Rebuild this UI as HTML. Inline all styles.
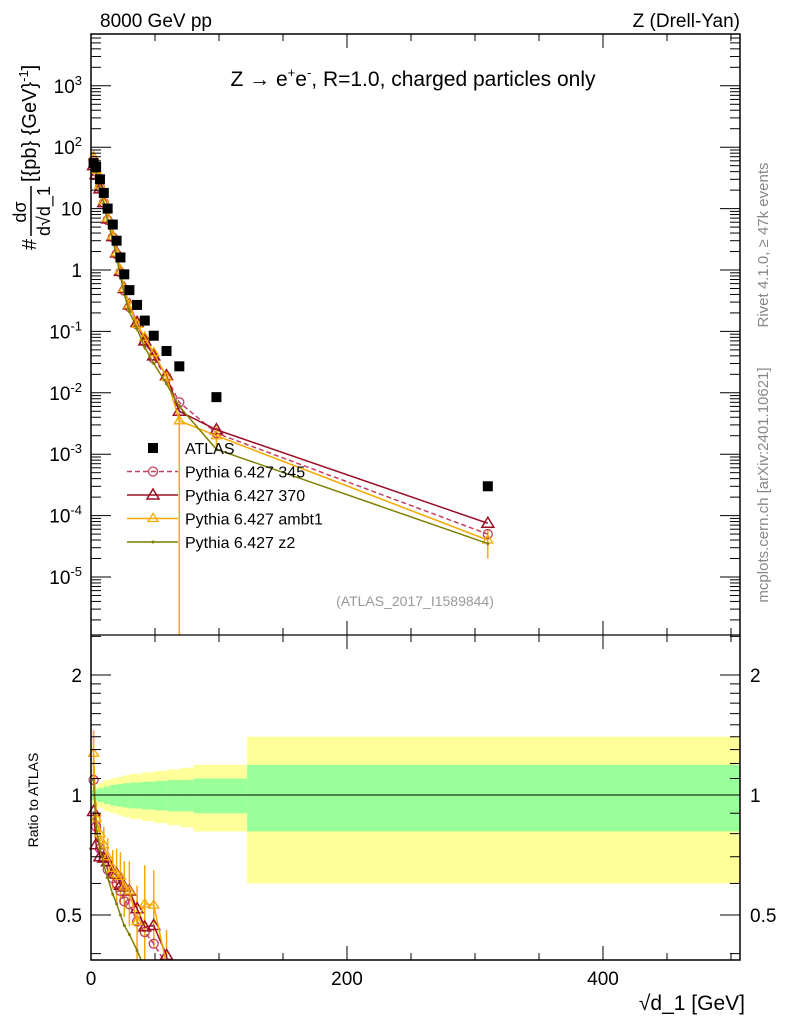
<!DOCTYPE html>
<html><head><meta charset="utf-8"><style>
html,body{margin:0;padding:0;background:#fff;width:786px;height:1024px;overflow:hidden;position:relative;}
svg{display:block;position:absolute;left:0;top:0;font-family:"Liberation Sans",sans-serif;}
</style></head><body>
<svg id="c" width="786" height="1024" viewBox="0 0 786 1024" xmlns="http://www.w3.org/2000/svg">
<g id="ratio-bands"></g>
<g id="marks"></g>
<g id="axes"></g>
<text x="100" y="27" font-size="19">8000 GeV pp</text>
<text x="740" y="27" font-size="19" text-anchor="end">Z (Drell-Yan)</text>
<text x="413" y="86" font-size="21" text-anchor="middle">Z  →  e<tspan font-size="13" dy="-9">+</tspan><tspan dy="9">e</tspan><tspan font-size="13" dy="-9">-</tspan><tspan dy="9">, R=1.0, charged particles only</tspan></text>
<text x="415" y="606" font-size="14" fill="#999" text-anchor="middle">(ATLAS_2017_I1589844)</text>
<text transform="translate(768,245) rotate(-90)" font-size="15" fill="#888" text-anchor="middle">Rivet 4.1.0, ≥ 47k events</text>
<text transform="translate(768,485) rotate(-90)" font-size="15" fill="#888" text-anchor="middle">mcplots.cern.ch [arXiv:2401.10621]</text>
<g transform="translate(36,250) rotate(-90)" font-size="20">
<text x="0" y="0">#</text>
<text x="38" y="-10" font-size="18" text-anchor="middle">dσ</text>
<line x1="14" y1="-5" x2="64" y2="-5" stroke="#000" stroke-width="1.5"/>
<text x="39" y="14" font-size="18" text-anchor="middle">d√d_1</text>
<text x="68" y="0">[{pb} {GeV}<tspan font-size="13" dy="-8">-1</tspan><tspan dy="8">]</tspan></text>
</g>
<text x="38" y="800" font-size="14" transform="rotate(-90 38 800)" text-anchor="middle">Ratio to ATLAS</text>
<text x="745" y="1010" font-size="21" text-anchor="end">√d_1 [GeV]</text>
<g id="legend"></g>
</svg>
<script>
const xs = [2,4,7,10,13,17,20,23,26,30,36,42,49,59,69,98,310];
const atlas = [55,48,30,18,10,5.5,3,1.6,0.85,0.47,0.27,0.15,0.085,0.048,0.027,0.0085,3e-4];
const p345 = [60,40,22,12.5,6.5,3.4,1.8,0.92,0.46,0.25,0.13,0.068,0.036,0.018,0.007,0.0022,5e-5];
const p370 = [50,36,21,12.5,6.8,3.5,1.9,0.95,0.5,0.27,0.14,0.07,0.04,0.019,0.005,0.0025,7.5e-5];
const ambt1 = [70,42,24,13.5,7,3.6,1.9,1.0,0.5,0.27,0.13,0.08,0.045,0.018,0.0035,0.002,4e-5];
const ambt1Lo = [60,38,21,12,6.2,3.2,1.6,0.85,0.42,0.22,0.1,0.05,0.035,0.014,1e-7,0.0012,2e-5];
const ambt1Hi = [80,46,27,15,7.8,4,2.2,1.15,0.58,0.32,0.16,0.1,0.055,0.022,0.006,0.0028,6e-5];
const z2 = [60,40,22,12,6.2,3.1,1.6,0.8,0.4,0.21,0.11,0.055,0.03,0.014,0.006,0.0012,3.5e-5];
const bandEdges = [0,5,10,15,20,25,30,40,50,60,70,80,122,510];
const yellowErr = [0.05,0.07,0.09,0.1,0.11,0.12,0.13,0.14,0.15,0.16,0.17,0.19,0.4];
const greenErr = [0.03,0.04,0.05,0.06,0.065,0.07,0.075,0.08,0.085,0.09,0.09,0.1,0.19];
const xTicks = [0,200,400];
const yTicks = [-5,-4,-3,-2,-1,0,1,2,3];
const rTicks = [0.5,1,2];

const NS='http://www.w3.org/2000/svg';
const L=91,R=740,T=34,MB=635,RB=960;
const X=v=>L+v*1.28;
const Y=v=>270-Math.log10(v)*61.4;
const RY=v=>795-Math.log10(v)*398.6;
const clampY=(y,lo,hi)=>Math.max(lo,Math.min(hi,y));
function mk(tag,attrs,parent){const e=document.createElementNS(NS,tag);for(const k in attrs)e.setAttribute(k,attrs[k]);parent.appendChild(e);return e;}
// truncate a polyline at the horizontal band [top,bot] (interpolating the crossing)
function clipPts(pts,top,bot){
  const out=[];
  for(let i=0;i<pts.length;i++){
    const [x,y]=pts[i];
    if(y>=top&&y<=bot){out.push([x,y]);continue;}
    if(i>0){const [px,py]=pts[i-1];
      if(py>=top&&py<=bot){const lim=y>bot?bot:top;const t=(lim-py)/(y-py);out.push([px+t*(x-px),lim]);}}
    if(out.length)break;
  }
  return out.map(p=>p[0]+','+p[1]).join(' ');
}
const bands=document.getElementById('ratio-bands'),marks=document.getElementById('marks'),axes=document.getElementById('axes'),leg=document.getElementById('legend');

for(let i=0;i<yellowErr.length;i++){
  const x0=X(bandEdges[i]),x1=Math.min(X(bandEdges[i+1]),R);
  const yb=mk('rect',{x:x0,y:RY(1+yellowErr[i]),width:x1-x0,height:RY(1-yellowErr[i])-RY(1+yellowErr[i]),fill:'#ffff99'},bands);
  
  
  const gb=mk('rect',{x:x0,y:RY(1+greenErr[i]),width:x1-x0+0.5,height:RY(1-greenErr[i])-RY(1+greenErr[i]),fill:'#99ff99'},bands);
  
  
}
const one=mk('line',{x1:L,x2:R,y1:RY(1),y2:RY(1),stroke:'#000'},bands);



const gm=mk('g',{},marks), gr=mk('g',{},marks);

function marker(g,type,x,y,col){
  if(type==='circle')return mk('circle',{cx:x,cy:y,r:4.5,fill:'none',stroke:col,'stroke-width':1.3},g);
  if(type==='tri')return mk('path',{d:`M${x} ${y-6}L${x+6} ${y+4}L${x-6} ${y+4}Z`,fill:'none',stroke:col,'stroke-width':1.5},g);
  if(type==='tris')return mk('path',{d:`M${x} ${y-5}L${x+5} ${y+3}L${x-5} ${y+3}Z`,fill:'none',stroke:col,'stroke-width':1.3},g);
  return mk('circle',{cx:x,cy:y,r:1.5,fill:col},g);
}
const series=[
 {name:'Pythia 6.427 345',vals:p345,col:'#c0405f',dash:'5,3',m:'circle'},
 {name:'Pythia 6.427 370',vals:p370,col:'#9b1026',dash:'',m:'tri'},
 {name:'Pythia 6.427 ambt1',vals:ambt1,col:'#f5a800',dash:'',m:'tris'},
 {name:'Pythia 6.427 z2',vals:z2,col:'#7f7f00',dash:'',m:'dot'}
];
xs.forEach((x,i)=>{
  const e=mk('line',{x1:X(x),x2:X(x),y1:clampY(Y(ambt1Lo[i]),T,MB),y2:clampY(Y(ambt1Hi[i]),T,MB),stroke:'#f5a800','stroke-width':1.5},gm);
  
  
  const ry1=clampY(RY(ambt1Lo[i]/atlas[i]),MB,RB),ry2=clampY(RY(ambt1Hi[i]/atlas[i]),MB,RB);
  if(ry1!==ry2){
    const r=mk('line',{x1:X(x),x2:X(x),y1:ry1,y2:ry2,stroke:'#f5a800','stroke-width':1.5},gr);
    
    
  }
});
series.forEach(s=>{
  const pl=mk('polyline',{points:clipPts(xs.map((x,i)=>[X(x),Y(s.vals[i])]),T,MB),fill:'none',stroke:s.col,'stroke-width':1.5,'stroke-dasharray':s.dash},gm);
  
  
  const rl=mk('polyline',{points:clipPts(xs.map((x,i)=>[X(x),RY(s.vals[i]/atlas[i])]),MB,RB),fill:'none',stroke:s.col,'stroke-width':1.5,'stroke-dasharray':s.dash},gr);
  
  
  xs.forEach((x,i)=>{
    const my=Y(s.vals[i]);
    if(my>=T&&my<=MB){
      const m=marker(gm,s.m,X(x),my,s.col);
      
      
    }
    const ry=RY(s.vals[i]/atlas[i]);
    if(ry>=MB&&ry<=RB-4){
      const rm=marker(gr,s.m,X(x),ry,s.col);
      
      
    }
  });
});
xs.forEach((x,i)=>{
  const r=mk('rect',{x:X(x)-5,y:Y(atlas[i])-5,width:10,height:10,fill:'#000'},gm);
  
  
});

mk('rect',{x:L,y:T,width:R-L,height:RB-T,fill:'none',stroke:'#000','stroke-width':1.5},axes);
mk('line',{x1:L,x2:R,y1:MB,y2:MB,stroke:'#000','stroke-width':1.2},axes);
for(let v=0;v<=500;v+=50){
  const big=v%200===0,len=big?14:7;
  [[T,1],[MB,-1],[MB,1],[RB,-1]].forEach(([y,d])=>mk('line',{x1:X(v),x2:X(v),y1:y,y2:y+d*len,stroke:'#000'},axes));
}
xTicks.forEach(v=>{const t=mk('text',{x:X(v),y:985,'font-size':19,'text-anchor':'middle'},axes);t.textContent=v;
});
for(let d=-6;d<=3;d++){for(let k=1;k<10;k++){const v=k*Math.pow(10,d);const y=Y(v);if(y<T||y>MB)continue;
 const len=k===1?20:10;mk('line',{x1:L,x2:L+len,y1:y,y2:y,stroke:'#000'},axes);mk('line',{x1:R,x2:R-len,y1:y,y2:y,stroke:'#000'},axes);}}
yTicks.forEach(e=>{const t=mk('text',{x:82,y:Y(Math.pow(10,e))+7,'font-size':19,'text-anchor':'end'},axes);
 if(e===0)t.textContent='1';else if(e===1)t.textContent='10';else{t.textContent='10';const s=document.createElementNS(NS,'tspan');s.setAttribute('font-size','13');s.setAttribute('dy','-8');s.textContent=e;t.appendChild(s);}
 });
[0.4,0.5,0.6,0.7,0.8,0.9,1,1.1,1.2,1.3,1.4,1.5,1.6,1.7,1.8,1.9,2,2.5].forEach(v=>{const y=RY(v);if(y<MB||y>RB)return;
 const len=(v===0.5||v===1||v===2)?20:10;mk('line',{x1:L,x2:L+len,y1:y,y2:y,stroke:'#000'},axes);mk('line',{x1:R,x2:R-len,y1:y,y2:y,stroke:'#000'},axes);});
rTicks.forEach(v=>{[[82,'end'],[750,'start']].forEach(([x,a])=>{const t=mk('text',{x:x,y:RY(v)+7,'font-size':19,'text-anchor':a},axes);t.textContent=v;
 });});

const ly0=448,ldy=23.5;
const lr=mk('rect',{x:148,y:ly0-5,width:10,height:10,fill:'#000'},leg);

const lt=mk('text',{x:185,y:ly0+6,'font-size':16},leg);lt.textContent='ATLAS';

series.forEach((s,i)=>{const y=ly0+ldy*(i+1);
 mk('line',{x1:127,x2:178,y1:y,y2:y,stroke:s.col,'stroke-width':1.5,'stroke-dasharray':s.dash},leg);
 marker(leg,s.m,153,y,s.col);
 const t=mk('text',{x:185,y:y+6,'font-size':16},leg);t.textContent=s.name;
 });
</script>
</body></html>
